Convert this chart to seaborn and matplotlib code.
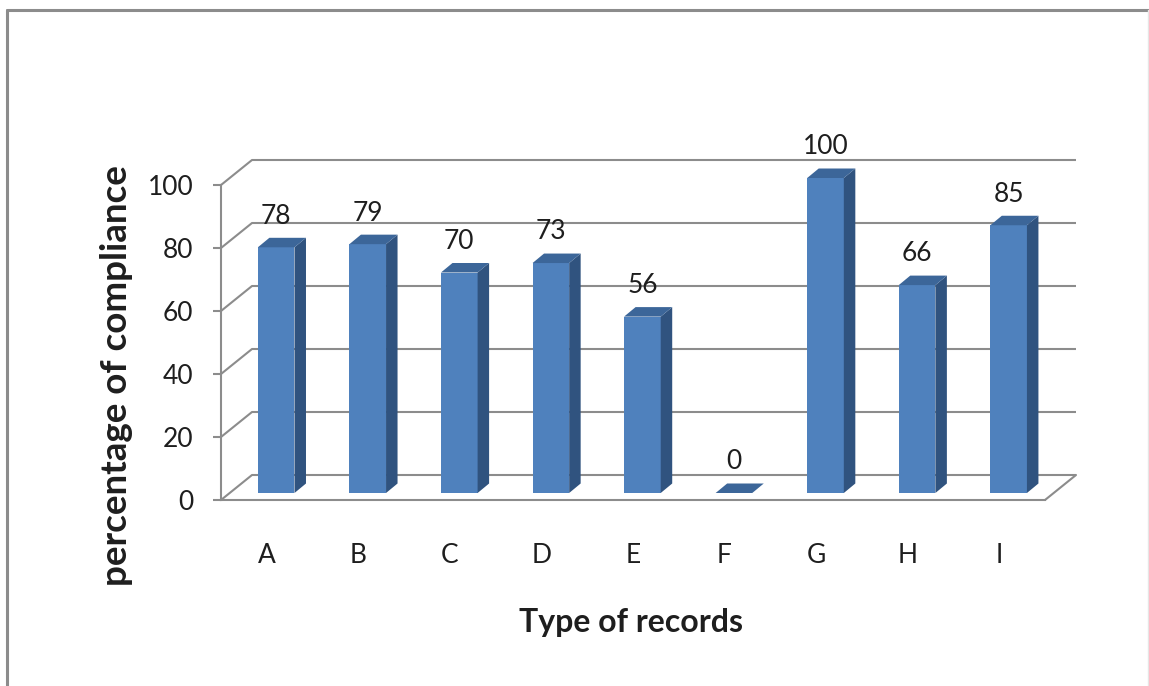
import matplotlib
matplotlib.use("Agg")
import matplotlib.pyplot as plt
import matplotlib.transforms as mtransforms
from matplotlib.patches import Polygon
from matplotlib.lines import Line2D
import pandas as pd
import seaborn as sns

# ---- data -------------------------------------------------------------
categories = ["A", "B", "C", "D", "E", "F", "G", "H", "I"]
compliance = [78, 79, 70, 73, 56, 0, 100, 66, 85]
y_ticks = [0, 20, 40, 60, 80, 100]

# ---- style ------------------------------------------------------------
FRONT = "#4F81BD"
SIDE = "#30537F"
TOP = "#3C6699"
GRID = "#8C8C8C"
TEXT = "#1E1E1E"

sns.set_theme(style="white")
plt.rcParams["font.family"] = ["Lato", "DejaVu Sans"]

W, H = 1149, 686
fig = plt.figure(figsize=(W / 100, H / 100), dpi=100)
fig.patch.set_facecolor("white")

# plot area = front edge of the floor and the left wall (pixels)
ax_l, ax_b, ax_w, ax_h = 221, 500, 824, 315
ax = fig.add_axes([ax_l / W, 1 - ax_b / H, ax_w / W, ax_h / H])
ax.set_facecolor("none")

df = pd.DataFrame({"record": categories, "pct": compliance})
sns.barplot(data=df, x="record", y="pct", color=FRONT, saturation=1,
            width=0.4, errorbar=None, ax=ax, zorder=3)
ax.set_xlim(-0.5, len(categories) - 0.5)
ax.set_ylim(0, 100)

# pixel -> data scale factors for the oblique projection
sx = ax_w / len(categories)
sy = ax_h / 100
wall_dx, wall_dy = 31 / sx, 25 / sy          # full depth of the chart box
off_dx, off_dy = 9.4 / sx, 7 / sy            # where the bars sit in depth
bar_dx, bar_dy = 11.5 / sx, 9.5 / sy         # depth of each bar

# back wall gridlines with their diagonal connectors
x_lo, x_hi = -0.5, len(categories) - 0.5
for v in y_ticks:
    ax.plot([x_lo, x_lo + wall_dx, x_hi + wall_dx], [v, v + wall_dy, v + wall_dy],
            color=GRID, lw=1.5, clip_on=False, zorder=1, solid_capstyle="butt")
# right edge of the floor
ax.plot([x_hi, x_hi + wall_dx], [0, wall_dy], color=GRID, lw=1.5,
        clip_on=False, zorder=1)

# 3-D bars: shift the front faces into depth and add side/top faces
shift = mtransforms.Affine2D().translate(off_dx, off_dy) + ax.transData
for p, v in zip(ax.patches, compliance):
    p.set_transform(shift)
    p.set_clip_on(False)
    p.set_linewidth(0)
    x0 = p.get_x() + off_dx
    x1 = x0 + p.get_width()
    h = p.get_height() + off_dy
    b = off_dy
    if p.get_height() > 0:
        side = Polygon([(x1, b), (x1 + bar_dx, b + bar_dy),
                        (x1 + bar_dx, h + bar_dy), (x1, h)],
                       closed=True, facecolor=SIDE, edgecolor="none",
                       zorder=3, clip_on=False)
        ax.add_patch(side)
    top = Polygon([(x0, h), (x1, h), (x1 + bar_dx, h + bar_dy),
                   (x0 + bar_dx, h + bar_dy)],
                  closed=True, facecolor=TOP, edgecolor="none",
                  zorder=3, clip_on=False)
    ax.add_patch(top)
    ax.annotate(f"{v}", xy=((x0 + x1) / 2, h), xytext=(0, 17),
                textcoords="offset points", ha="center", va="baseline",
                fontsize=19, color=TEXT, annotation_clip=False)

# axes lines and ticks
for side_name in ["top", "right"]:
    ax.spines[side_name].set_visible(False)
for side_name in ["left", "bottom"]:
    ax.spines[side_name].set_color(GRID)
    ax.spines[side_name].set_linewidth(1.5)
    ax.spines[side_name].set_zorder(1)
ax.set_yticks(y_ticks)
ax.tick_params(axis="y", left=True, direction="out", length=5.8, width=1.5,
               color=GRID, pad=14, labelsize=19, labelcolor=TEXT)
ax.tick_params(axis="x", bottom=False, length=0, pad=31, labelsize=19,
               labelcolor=TEXT)

ax.set_xlabel("Type of records", fontsize=23, fontweight="bold", color=TEXT)
ax.xaxis.set_label_coords(0.497, -0.419)
ax.xaxis.label.set_va("baseline")
ax.set_ylabel("percentage of compliance", fontsize=26.5, fontweight="bold",
              color=TEXT)
ax.yaxis.set_label_coords(-0.114, 0.394)
ax.yaxis.label.set_va("baseline")

# outer chart frame
fig.add_artist(Line2D([7 / W, 7 / W], [0, 1 - 10 / H], transform=fig.transFigure,
                      color="#8C8C8C", lw=2.2))
fig.add_artist(Line2D([7 / W, 1], [1 - 10 / H, 1 - 10 / H],
                      transform=fig.transFigure, color="#8C8C8C", lw=2.2))
fig.add_artist(Line2D([1148 / W, 1148 / W], [0, 1 - 10 / H],
                      transform=fig.transFigure, color="#E6E6E6", lw=1))

fig.savefig("out.png", dpi=100, facecolor="white")
